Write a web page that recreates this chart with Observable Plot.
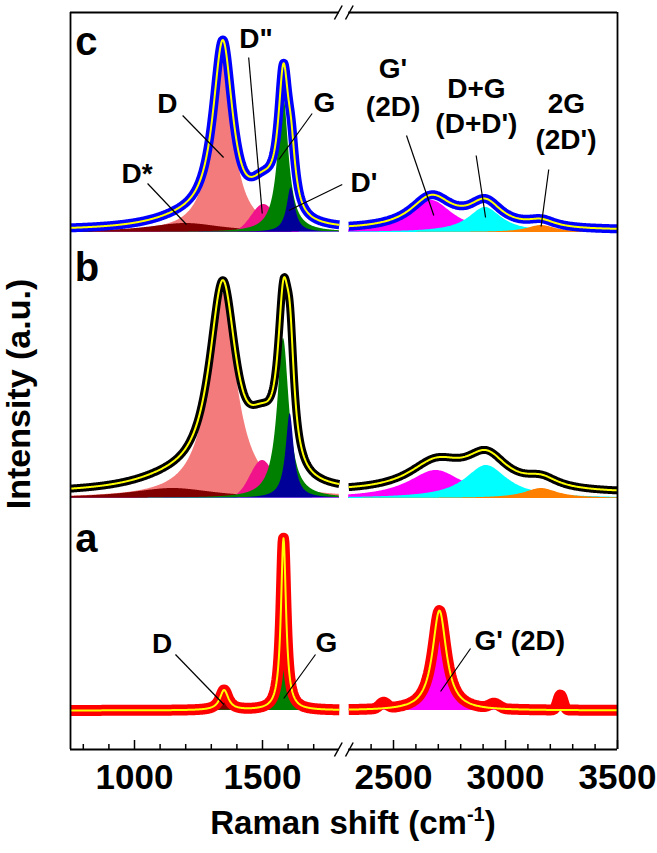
<!DOCTYPE html>
<html><head><meta charset="utf-8">
<script src="https://cdn.jsdelivr.net/npm/d3@7"></script>
<script src="https://cdn.jsdelivr.net/npm/@observablehq/plot@0.6"></script>
<style>body{margin:0;background:#fff}</style>
</head><body><div id="chart"></div>
<script>
// ---------------- data ----------------
const xDomain = [750, 1800, 2300, 3500];           // broken Raman-shift axis
const majorTicks = [1000, 1500, 2500, 3000, 3500];
const minorTicks = [800, 900, 1100, 1200, 1300, 1400, 1600, 1700,
                    2400, 2600, 2700, 2800, 2900, 3100, 3200, 3300, 3400];

// fitted peak components: band, shape (L = Lorentzian, G = Gaussian), centre (cm-1), FWHM (cm-1), height (a.u.)
const peaksC = [
  {band: "D",   shape: "L", center: 1345, fwhm: 95,  height: 183},
  {band: "D*",  shape: "L", center: 1200, fwhm: 350, height: 9},
  {band: "D''", shape: "G", center: 1505, fwhm: 110, height: 28},
  {band: "G",   shape: "L", center: 1582, fwhm: 50,  height: 138},
  {band: "D'",  shape: "L", center: 1612, fwhm: 38,  height: 45},
  {band: "G'",  shape: "L", center: 2670, fwhm: 230, height: 32},
  {band: "D+G", shape: "L", center: 2910, fwhm: 180, height: 25},
  {band: "2G",  shape: "L", center: 3160, fwhm: 150, height: 7}
];
const backgroundC = 2;

const peaksB = [
  {band: "D",   shape: "L", center: 1345, fwhm: 130, height: 205},
  {band: "D*",  shape: "L", center: 1150, fwhm: 400, height: 10},
  {band: "D''", shape: "G", center: 1500, fwhm: 110, height: 38},
  {band: "G",   shape: "L", center: 1582, fwhm: 55,  height: 160},
  {band: "D'",  shape: "L", center: 1608, fwhm: 38,  height: 85},
  {band: "G'",  shape: "L", center: 2690, fwhm: 300, height: 28},
  {band: "D+G", shape: "L", center: 2915, fwhm: 230, height: 33},
  {band: "2G",  shape: "L", center: 3160, fwhm: 180, height: 10}
];
const backgroundB = 5;

const peaksA = [
  {band: "D",  shape: "L", center: 1350, fwhm: 40, height: 20},
  {band: "G",  shape: "L", center: 1582, fwhm: 24, height: 172},
  {band: "G'", shape: "L", center: 2705, fwhm: 75, height: 100}
];
const backgroundA = 0;
// small features present in the measured spectrum (a) but not in the fit
const extraA = [
  {center: 2455, fwhm: 40, height: 6},
  {center: 2950, fwhm: 50, height: 5},
  {center: 3245, fwhm: 28, height: 15}
];

// annotations: text position (cm-1, a.u. above the panel baseline)
const labelsC = [
  {text: "c", x: 812, y: 178, kind: "panel"},
  {text: "D", x: 1128, y: 120}, {text: "D*", x: 1010, y: 50}, {text: "D\"", x: 1475, y: 185},
  {text: "G", x: 1742, y: 121}, {text: "D'", x: 2368, y: 41},
  {text: "G'", x: 2498, y: 155}, {text: "(2D)", x: 2498, y: 117},
  {text: "D+G", x: 2870, y: 135}, {text: "(D+D')", x: 2870, y: 100},
  {text: "2G", x: 3272, y: 120}, {text: "(2D')", x: 3270, y: 84}
];
const leadersC = [
  {x1: 1188, y1: 117, x2: 1348, y2: 75}, {x1: 1051, y1: 49, x2: 1203, y2: 8},
  {x1: 1446, y1: 175, x2: 1499, y2: 19}, {x1: 1694, y1: 119, x2: 1564, y2: 73},
  {x1: 1958, y1: 48, x2: 1603, y2: 22}, {x1: 2558, y1: 97, x2: 2680, y2: 17},
  {x1: 2869, y1: 77, x2: 2911, y2: 15}, {x1: 3193, y1: 63, x2: 3159, y2: 6}
];
const labelsB = [{text: "b", x: 814, y: 218, kind: "panel"}];
const leadersB = [];
const labelsA = [
  {text: "a", x: 812, y: 159, kind: "panel"},
  {text: "D", x: 1108, y: 58}, {text: "G", x: 1750, y: 59}, {text: "G' (2D)", x: 3064, y: 61}
];
const leadersA = [
  {x1: 1160, y1: 56, x2: 1349, y2: 6}, {x1: 1707, y1: 56, x2: 1583, y2: 12},
  {x1: 2844, y1: 62, x2: 2710, y2: 19}
];
// axis-break marks (cm-1 positions of the two slashes)
const breakSlashes = [{x1: 1781, x2: 1954}, {x1: 2130, x2: 2320}];

// ---------------- layout & style ----------------
const W = 657, H = 853, mL = 70, mR = 40, mT = 12, mB = 104;
const kLeft = 0.256, kRight = 0.224, gapPx = 9.4;      // px per cm-1 in each segment
const xRange = [mL, mL + (xDomain[1] - xDomain[0]) * kLeft];
xRange.push(xRange[1] + gapPx, xRange[1] + gapPx + (xDomain[3] - xDomain[2]) * kRight);
const yTop = H - mB - mT;                               // 1 a.u. = 1 px
const base = {a: 39, b: 251, c: 517};                   // panel baselines
const fillColor = {"D": "#f47b7b", "D*": "#800000", "D''": "#f0138a", "G": "#008000",
  "D'": "#000099", "G'": "#ff00ff", "D+G": "#00ffff", "2G": "#ff8000"};
const fillColorA = {"D": "#800000"};
const dataColor = {a: "#ff0000", b: "#000000", c: "#0000ff"};
const dataWidth = {a: 11, b: 8, c: 9};
const font = "Liberation Sans, Arial, Helvetica, sans-serif";

function profile(p, x) {
  const d = (x - p.center) / p.fwhm;
  return p.shape === "G" ? p.height * Math.exp(-4 * Math.LN2 * d * d) : p.height / (1 + 4 * d * d);
}
const grids = [
  {seg: 0, xs: d3.range(xDomain[0], xDomain[1] + 0.1, 2)},
  {seg: 1, xs: d3.range(xDomain[2], xDomain[3] + 0.1, 4)}
];
function evalRows(fn) {
  const rows = [];
  for (const g of grids) for (const x of g.xs) rows.push({seg: g.seg, x, v: fn(x)});
  return rows;
}

const panels = [
  {id: "c", peaks: peaksC, bg: backgroundC, extra: [], labels: labelsC, leaders: leadersC},
  {id: "b", peaks: peaksB, bg: backgroundB, extra: [], labels: labelsB, leaders: leadersB},
  {id: "a", peaks: peaksA, bg: backgroundA, extra: extraA, labels: labelsA, leaders: leadersA}
];

const marks = [];
for (const P of panels) {
  const b0 = base[P.id];
  for (const pk of P.peaks) {
    const rows = evalRows(x => profile(pk, x));
    const col = (P.id === "a" && fillColorA[pk.band]) || fillColor[pk.band];
    marks.push(Plot.areaY(rows, {x: "x", y1: () => b0, y2: d => b0 + d.v, z: "seg", fill: col}));
  }
  const fit = x => P.bg + d3.sum(P.peaks, pk => profile(pk, x));
  const measured = x => fit(x) + d3.sum(P.extra, e => profile({...e, shape: "G"}, x));
  marks.push(Plot.line(evalRows(measured), {x: "x", y: d => b0 + d.v, z: "seg",
    stroke: dataColor[P.id], strokeWidth: dataWidth[P.id], strokeLinejoin: "round", strokeLinecap: "butt"}));
  marks.push(Plot.line(evalRows(fit), {x: "x", y: d => b0 + d.v, z: "seg",
    stroke: "#ffff00", strokeWidth: 2, strokeLinecap: "butt"}));
  marks.push(Plot.link(P.leaders, {x1: "x1", x2: "x2", y1: d => b0 + d.y1, y2: d => b0 + d.y2,
    stroke: "#000", strokeWidth: 1.2}));
  marks.push(Plot.text(P.labels, {x: "x", y: d => b0 + d.y, text: "text", lineAnchor: "bottom",
    fontSize: d => d.kind === "panel" ? 40 : 28, fontWeight: "bold", fontFamily: font, fill: "#000"}));
}

// frame with break
const frameH = [
  {y: 0, x1: xDomain[0], x2: xDomain[1]}, {y: 0, x1: xDomain[2], x2: xDomain[3]},
  {y: yTop, x1: xDomain[0], x2: xDomain[1]}, {y: yTop, x1: xDomain[2], x2: xDomain[3]}
];
marks.push(Plot.ruleY(frameH, {y: "y", x1: "x1", x2: "x2", stroke: "#000", strokeWidth: 1.8}));
marks.push(Plot.ruleX([xDomain[0], xDomain[3]], {x: d => d, y1: 0, y2: yTop, stroke: "#000", strokeWidth: 1.8}));
for (const yy of [0, yTop]) {
  marks.push(Plot.link(breakSlashes, {x1: "x1", x2: "x2", y1: yy - 7, y2: yy + 7, stroke: "#000", strokeWidth: 1.5}));
}
// ticks (inward)
marks.push(Plot.ruleX(majorTicks, {x: d => d, y1: 0, y2: 9, stroke: "#000", strokeWidth: 1.5}));
marks.push(Plot.ruleX(minorTicks, {x: d => d, y1: 0, y2: 5, stroke: "#000", strokeWidth: 1.5}));
marks.push(Plot.text(majorTicks, {x: d => d, y: 0, text: d => String(d), dy: 39, lineAnchor: "bottom",
  fontSize: 35, fontWeight: "bold", fontFamily: font, fill: "#000"}));
// axis titles
marks.push(Plot.text(["Raman shift (cm-1)"], {frameAnchor: "bottom", dx: 9, dy: 84, lineAnchor: "bottom",
  textAnchor: "middle", fontSize: 33, fontWeight: "bold", fontFamily: font, fill: "#000"}));
marks.push(Plot.text(["Intensity (a.u.)"], {frameAnchor: "left", rotate: -90, dx: -51, dy: 13,
  textAnchor: "middle", lineAnchor: "middle", fontSize: 34, fontWeight: "bold", fontFamily: font, fill: "#000"}));

const svg = Plot.plot({
  width: W, height: H, marginLeft: mL, marginRight: mR, marginTop: mT, marginBottom: mB,
  x: {type: "linear", domain: xDomain, range: xRange, axis: null},
  y: {domain: [0, yTop], axis: null},
  style: {background: "#fff", fontFamily: font, overflow: "visible"},
  marks
});
// superscript in the x-axis title
svg.querySelectorAll("text").forEach(t => {
  if (t.textContent === "Raman shift (cm-1)") {
    t.textContent = "";
    const ns = "http://www.w3.org/2000/svg";
    const a = document.createElementNS(ns, "tspan"); a.textContent = "Raman shift (cm";
    const s = document.createElementNS(ns, "tspan"); s.textContent = "-1";
    s.setAttribute("font-size", "20"); s.setAttribute("dy", "-13");
    const c = document.createElementNS(ns, "tspan"); c.textContent = ")"; c.setAttribute("dy", "13");
    t.append(a, s, c);
  }
});
document.getElementById("chart").append(svg);
</script></body></html>
